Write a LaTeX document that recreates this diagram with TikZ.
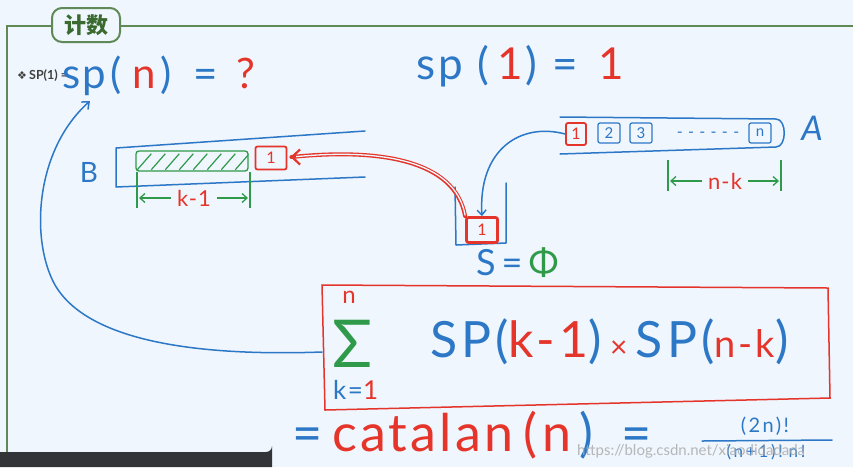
\documentclass[tikz,border=0pt]{standalone}
\usepackage{fontspec}
\setmainfont{Lato}
\newfontfamily\cjk{Noto Sans CJK SC}
\newfontfamily\dejavu{DejaVu Sans}
\usetikzlibrary{arrows.meta,calc}
\definecolor{bg}{HTML}{EFF6FD}
\definecolor{framegreen}{HTML}{5F8A58}
\definecolor{titlegreen}{HTML}{3A6A30}
\definecolor{hblue}{HTML}{2C78C6}
\definecolor{hred}{HTML}{E5352B}
\definecolor{hgreen}{HTML}{2E9A4A}
\definecolor{bar}{HTML}{323438}
\tikzset{
  hand/.style={inner sep=0pt, font=\fontsize{#1}{#1}\selectfont},
  hand/.default=36,
  spaced/.style 2 args={inner sep=0pt, font=\fontsize{#1}{#1}\selectfont\addfontfeature{LetterSpace=#2}},
  redbox/.style={draw=hred, line width=1.8pt, rounded corners=2pt, text=hred, inner sep=0pt, font=\fontsize{16}{16}\selectfont},
  cellbox/.style={draw=hblue, line width=1.2pt, rounded corners=2pt, text=hblue, inner sep=0pt, minimum width=22, minimum height=20, font=\fontsize{15}{15}\selectfont},
  dimtick/.style={hgreen, line width=1.3pt},
  dimarrow/.style={hgreen, line width=1.3pt, -{Straight Barb[length=5pt,width=9pt]}},
  pen/.style={line width=1.5pt, line cap=round, line join=round},
}
\begin{document}
\begin{tikzpicture}[x=1pt,y=-1pt]
\useasboundingbox (0,0) rectangle (853,467);
\fill[bg] (0,0) rectangle (853,467);
% frame
\draw[framegreen, line width=2pt] (7,467) -- (7,26) -- (60,26);
\draw[framegreen, line width=2pt] (110,26) -- (853,26);
\node[draw=framegreen, line width=2pt, rounded corners=10pt, fill=bg, minimum width=68, minimum height=34, text=titlegreen, font=\cjk\bfseries\fontsize{22}{22}\selectfont] (title) at (86,25) {计数};
% slide bullet
\node[anchor=west, inner sep=0pt, text=black!75, font=\bfseries\fontsize{12.5}{12.5}\selectfont] (bullet) at (17,76) {{\dejavu\fontsize{11}{11}\selectfont ❖}\,SP(1) =};
% handwritten sp(n) = ?
\node[hand=42, anchor=west] (spn) at (62,76) {\textcolor{hblue}{s\hspace{2pt}p\hspace{5pt}(}\hspace{10pt}\textcolor{hred}{n}\hspace{5pt}\textcolor{hblue}{)\hspace{22pt}=}\hspace{18pt}\textcolor{hred}{?}};
\node[hand=44, anchor=west] (sp1) at (416,66) {\textcolor{hblue}{s\hspace{3pt}p\hspace{15pt}(}\hspace{8pt}\textcolor{hred}{1}\hspace{2pt}\textcolor{hblue}{)\hspace{16pt}=}\hspace{20pt}\textcolor{hred}{1}};
% B array
\node[hand=28, text=hblue] (blabel) at (89,172) {B};
\draw[hblue, pen] (365,131) -- (116,148) -- (116,187) -- (365,177);
\node[draw=hgreen, line width=1.3pt, rounded corners=3pt, minimum width=112, minimum height=20, inner sep=0pt] (hatch) at (192,161) {};
\begin{scope}
\clip[rounded corners=3pt] (hatch.south west) rectangle (hatch.north east);
\foreach \i in {0,...,8} {
  \draw[hgreen, line width=1.2pt] ($(hatch.south west)+(\i*14+2,-2)$) -- ++(14,-16);
}
\end{scope}
\node[redbox, minimum width=31, minimum height=23] (b1) at (271,158) {1};
\draw[dimtick] (137,172) -- (137,208);
\draw[dimtick] (250,172) -- (250,208);
\node[spaced={22}{5}, text=hred] (km1) at (194,198) {k-1};
\draw[dimarrow] ($(km1.west)+(-6,0)$) -- (139,198);
\draw[dimarrow] ($(km1.east)+(6,0)$) -- (248,198);
% A array
\draw[hblue, pen] (560,117) -- (776,119) .. controls (787,119) and (787,147) .. (776,147) -- (560,154);
\node[redbox, minimum width=20, minimum height=22] (a1) at (576,134) {1};
\node[cellbox] (a2) at (609,133) {2};
\node[cellbox] (a3) at (641,133) {3};
\node[hand=16, text=hblue] (dots) at (708,135) {-\,\,-\,\,-\,\,-\,\,-\,\,-};
\node[cellbox] (an) at (760,133) {n};
\node[hand=34, text=hblue, font=\itshape\fontsize{34}{34}\selectfont] (alabel) at (812,128) {A};
\draw[dimtick] (668,160) -- (668,191);
\draw[dimtick] (781,160) -- (781,191);
\node[spaced={22}{5}, text=hred] (nk) at (725,181) {n-k};
\draw[dimarrow] ($(nk.west)+(-6,0)$) -- (670,181);
\draw[dimarrow] ($(nk.east)+(6,0)$) -- (779,181);
% stack S
\draw[hblue, pen] (455,187) -- (456,245) -- (506,243) -- (506,183);
\node[redbox, minimum width=31, minimum height=25, line width=2.8pt] (s1) at (482,230) {1};
% arrows
\draw[hblue, pen, -{Straight Barb[length=5pt,width=9pt]}] (a1.west) .. controls (520,122) and (478,150) .. (s1.north);
\draw[hred, line width=4pt, line cap=round] (s1.north west) .. controls (455,160) and (380,148) .. ($(b1.east)+(4,-1)$);
\draw[bg, line width=1.3pt, line cap=round] ($(s1.north west)+(0,-1)$) .. controls (455,160) and (380,148) .. ($(b1.east)+(5,-1)$);
\draw[hred, line width=2.2pt, -{Straight Barb[length=8pt,width=15pt]}] ($(b1.east)+(9,-1)$) -- ($(b1.east)+(3,-1)$);
% S = phi
\node[spaced={36}{12}, anchor=west] (sphi) at (476,263) {\textcolor{hblue}{S\,=}\,\textcolor{hgreen}{Φ}};
% sum box
\draw[hred, line width=1.5pt] (322,285) -- (828,288) -- (830,398) -- (325,410) -- cycle;
\node[hand=66, text=hgreen] (sig) at (353,344) {Σ};
\node[hand=24, text=hred] (supn) at (349,297) {n};
\node[spaced={26}{6}, anchor=west] (kone) at (333,390) {\textcolor{hblue}{k=}\textcolor{hred}{1}};
\node[spaced={50}{8}, anchor=west] (expr) at (430,342) {\textcolor{hblue}{SP(}\textcolor{hred}{k-1}\textcolor{hblue}{)}\,\textcolor{hred}{\fontsize{30}{30}\selectfont ×}\,\textcolor{hblue}{SP(}\textcolor{hred}{\fontsize{38}{38}\selectfont n-k}\textcolor{hblue}{)}};
% curved arrow to sp(n)
\coordinate (curvestart) at (322,352);
\draw[hblue, pen, -{Straight Barb[length=6pt,width=10pt]}] (curvestart) .. controls (210,356) and (90,345) .. (55,285) .. controls (30,240) and (35,150) .. (90,101);
% bottom formula
\node[hand=52, anchor=west] (cat) at (292,435) {\textcolor{hblue}{=}\hspace{10pt}\textcolor{hred}{\addfontfeature{LetterSpace=6}catalan\hspace{10pt}(\hspace{6pt}n}\hspace{8pt}\textcolor{hblue}{)\hspace{28pt}=}};
\node[spaced={20}{12}, text=hblue] (fnum) at (765,426) {(2n)!};
\node[spaced={17}{16}, text=hblue] (fden) at (766,452) {(n+1)!\,\,n!};
\draw[hblue, pen] (702,441) -- (832,440);
% watermark and bar
\node[text=gray!70, opacity=0.8, font=\fontsize{15}{15}\selectfont, anchor=west, inner sep=0pt] (wm) at (577,451) {https://blog.csdn.net/xiaodidadada};
\fill[bar] (0,467) -- (0,452) -- (266,452) arc[start angle=90, end angle=0, radius=6] -- (272,467) -- cycle;
\end{tikzpicture}
\end{document}
